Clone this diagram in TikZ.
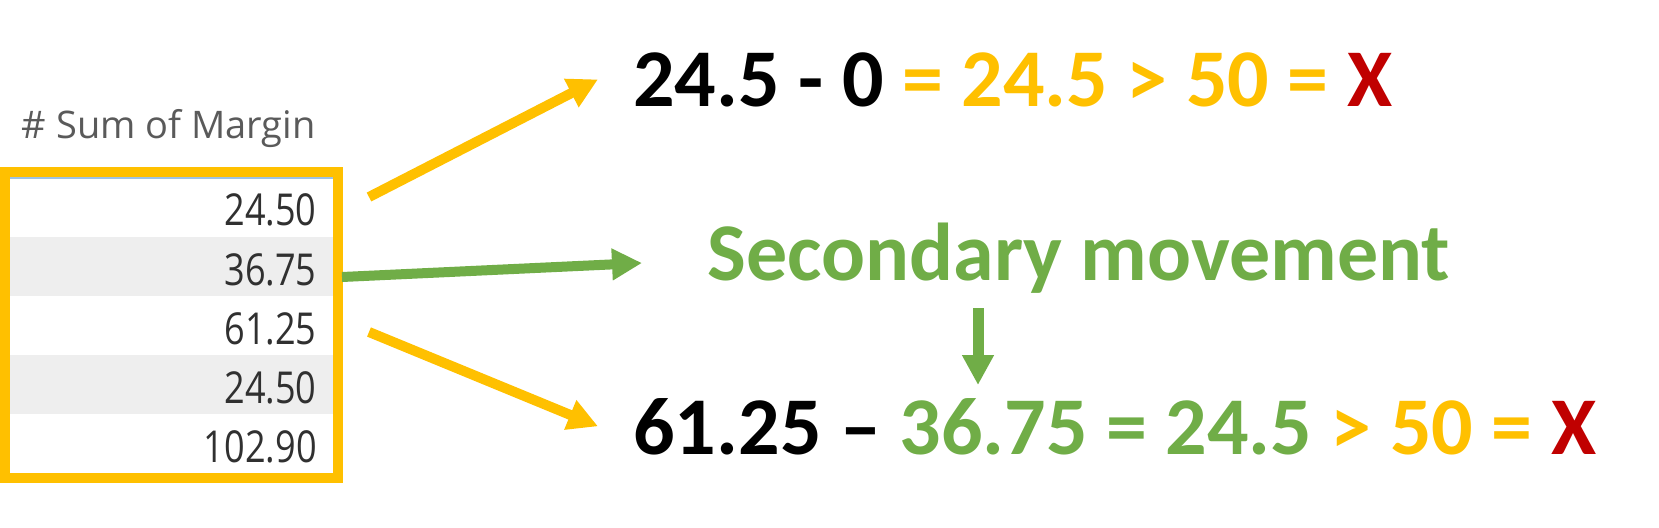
\documentclass[tikz,border=0pt]{standalone}
\usepackage{fontspec}
\setmainfont{Carlito}
\newfontfamily\gridfont[FakeStretch=0.82]{Open Sans}
\newfontfamily\headfont{Open Sans}
\definecolor{Gold}{HTML}{FFC000}
\definecolor{Leaf}{HTML}{70AD47}
\definecolor{Crimson}{HTML}{C00000}
\definecolor{RowGrey}{HTML}{EEEEEE}
\definecolor{GridText}{HTML}{303030}
\definecolor{SelBlue}{HTML}{9DC3E6}
\usetikzlibrary{arrows.meta, calc}

\tikzset{
  bigtext/.style={font=\bfseries\fontsize{41}{49}\selectfont, inner sep=0pt, anchor=base west},
  cell/.style={font=\gridfont\fontsize{22}{26}\selectfont, text=GridText, inner sep=0pt, anchor=base east},
  fatarrow/.style={line width=5pt, -{Triangle[length=15pt, width=15pt]}},
}

\begin{document}
\begin{tikzpicture}[x=0.5pt, y=-0.5pt]
\useasboundingbox (0, 0) rectangle (1659, 527);

% Esquinas de la tabla
\coordinate (TL) at (5, 172);
\coordinate (BR) at (338, 478);

% Filas grises de la tabla
\fill[RowGrey] (10, 237) rectangle (333, 296);
\fill[RowGrey] (10, 355) rectangle (333, 414);
\draw[SelBlue, line width=1pt] (10, 178) -- (333, 178);

% Encabezado y valores de la columna
\node[cell, font=\headfont\fontsize{19}{23}\selectfont, text=GridText!80] (head) at (316, 138) {\# Sum of Margin};
\node[cell] (rowA) at (317, 225) {24.50};
\node[cell] (rowB) at (317, 285) {36.75};
\node[cell] (rowC) at (317, 344) {61.25};
\node[cell] (rowD) at (317, 403) {24.50};
\node[cell] (rowE) at (317, 462) {102.90};

% Marco amarillo, dibujado luego de las filas
\draw[Gold, line width=5pt] (TL) rectangle (BR);

% Ecuaciones
\node[bigtext] (eqTop) at (633, 106)
  {24.5 - 0 \textcolor{Gold}{= 24.5 > 50 =} \textcolor{Crimson}{X}};
\node[bigtext, text=Leaf] (second) at (707, 280) {Secondary movement};
\node[bigtext] (eqBottom) at (633, 454)
  {61.25 -- \textcolor{Leaf}{36.75 = 24.5} \textcolor{Gold}{> 50 =} \textcolor{Crimson}{X}};

% Puntos de las flechas
\coordinate (tailTop) at (369, 197);
\coordinate (tailMid) at (342, 277);
\coordinate (tailBottom) at (369, 332);
\coordinate (headTop) at ($(eqTop.west) + (-35, 0)$);
\coordinate (headMid) at (642, 263);
\coordinate (headBottom) at ($(eqBottom.west) + (-35, 0)$);
\coordinate (dropStart) at (978, 308);
\coordinate (dropEnd) at (978, 385);

% Flechas
\draw[fatarrow, Gold] (tailTop) -- (headTop);
\draw[fatarrow, Leaf] (tailMid) -- (headMid);
\draw[fatarrow, Gold] (tailBottom) -- (headBottom);
\draw[fatarrow, Leaf, line width=5.5pt] (dropStart) -- (dropEnd);

\end{tikzpicture}
\end{document}
